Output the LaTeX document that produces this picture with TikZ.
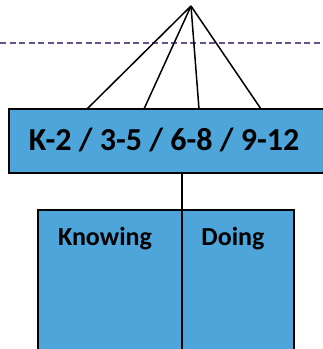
\documentclass[tikz,border=0pt]{standalone}
\usepackage{fontspec}
\setmainfont{Carlito}
\definecolor{boxblue}{RGB}{78,165,217}
\definecolor{guide}{RGB}{105,82,135}
\begin{document}
\begin{tikzpicture}[x=1pt,y=-1pt,
  link/.style={draw=black,line width=1.5pt},
  bluebox/.style={fill=boxblue,draw=black,line width=1.6pt},
  label/.style={anchor=base,inner sep=0pt}]
\useasboundingbox (0,0) rectangle (323,349);
\begin{scope}
\clip (0,0) rectangle (323,349);
% dashed guide line
\draw[guide,line width=2pt,dash pattern=on 6pt off 3.5pt] (0,43) -- (323,43);
% grade-band box
\draw[bluebox] (9,109) rectangle (330,173);
\node[label,font=\bfseries\fontsize{32}{38}\selectfont] (grades) at (164,150) {K-2 / 3-5 / 6-8 / 9-12};
% knowing / doing boxes
\draw[bluebox] (38,210) rectangle (182,360);
\draw[bluebox] (182,210) rectangle (294,360);
\node[label,font=\bfseries\fontsize{26}{30}\selectfont] (knowing) at (105,245) {Knowing};
\node[label,font=\bfseries\fontsize{26}{30}\selectfont] (doing) at (233,245) {Doing};
% connectors
\coordinate (apex) at (191,6);
\coordinate (t1) at (87,109);
\coordinate (t2) at (144,109);
\coordinate (t3) at (199,109);
\coordinate (t4) at (261,109);
\coordinate (gb) at (182,173);
\coordinate (kd) at (182,210);
\draw[link] (apex) -- (t1);
\draw[link] (apex) -- (t2);
\draw[link] (apex) -- (t3);
\draw[link] (apex) -- (t4);
\draw[link] (gb) -- (kd);
\end{scope}
\end{tikzpicture}
\end{document}
